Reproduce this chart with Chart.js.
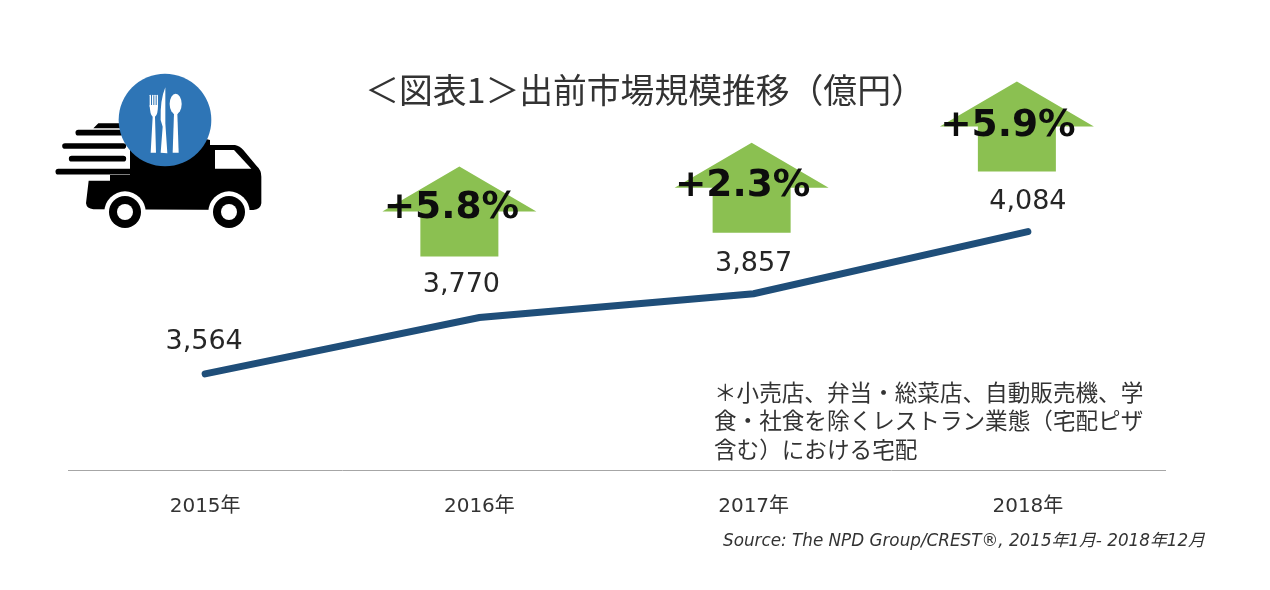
<!DOCTYPE html>
<html lang="ja">
<head>
<meta charset="utf-8">
<title>出前市場規模推移</title>
<script src="https://cdn.jsdelivr.net/npm/chart.js@4/dist/chart.umd.js"></script>
<style>
  html, body { margin: 0; background: #fff; }
  canvas { display: block; }
</style>
</head>
<body>
<canvas id="chart" width="1270" height="590"></canvas>
<script>
// --- Data ---
const years = ["2015年", "2016年", "2017年", "2018年"];
const marketSize = [3564, 3770, 3857, 4084];
const growthLabels = [null, "+5.8%", "+2.3%", "+5.9%"];
const titleText = "＜図表1＞出前市場規模推移（億円）";
const noteLines = [
  "＊小売店、弁当・総菜店、自動販売機、学",
  "食・社食を除くレストラン業態（宅配ピザ",
  "含む）における宅配"
];
const sourceText = "Source: The NPD Group/CREST®, 2015年1月- 2018年12月";

const JP = '"Noto Sans CJK JP"';
const LATIN = '"DejaVu Sans", ' + JP;

// --- Truck icon, coordinates are in a 3x grid from the top left of the icon ---
function drawTruck(ctx) {
  ctx.save();
  ctx.translate(40, 60);
  ctx.scale(1 / 3, 1 / 3);
  ctx.fillStyle = "#000";
  ctx.strokeStyle = "#000";

  // body and cab
  ctx.beginPath();
  ctx.moveTo(160, 205);
  ctx.lineTo(175, 190);
  ctx.lineTo(300, 190);
  ctx.lineTo(510, 240);
  ctx.lineTo(510, 255);
  ctx.lineTo(585, 255);
  ctx.quadraticCurveTo(600, 258, 610, 270);
  ctx.lineTo(650, 318);
  ctx.quadraticCurveTo(664, 330, 664, 350);
  ctx.lineTo(664, 430);
  ctx.quadraticCurveTo(662, 448, 640, 450);
  ctx.lineTo(160, 448);
  ctx.quadraticCurveTo(140, 446, 138, 430);
  ctx.lineTo(146, 362);
  ctx.lineTo(210, 362);
  ctx.lineTo(210, 345);
  ctx.lineTo(270, 345);
  ctx.lineTo(270, 205);
  ctx.closePath();
  ctx.fill();

  // gaps between the speed lines
  ctx.fillStyle = "#fff";
  ctx.fillRect(150, 228, 100, 20);
  ctx.fillRect(150, 267, 90, 20);
  ctx.fillRect(150, 305, 115, 20);

  // speed lines
  ctx.lineCap = "round";
  ctx.lineWidth = 17;
  [[115, 218, 240], [75, 258, 250], [95, 296, 250], [55, 335, 270]].forEach(([a, y, b]) => {
    ctx.beginPath();
    ctx.moveTo(a, y);
    ctx.lineTo(b, y);
    ctx.stroke();
  });

  // cab window
  ctx.fillStyle = "#fff";
  ctx.beginPath();
  ctx.moveTo(525, 270);
  ctx.lineTo(582, 270);
  ctx.lineTo(634, 326);
  ctx.lineTo(525, 326);
  ctx.closePath();
  ctx.fill();

  // wheels
  [255, 567].forEach(x => {
    [[62, "#fff"], [48, "#000"], [24, "#fff"]].forEach(([r, c]) => {
      ctx.fillStyle = c;
      ctx.beginPath();
      ctx.arc(x, 456, r, 0, Math.PI * 2);
      ctx.fill();
    });
  });

  // blue badge
  ctx.fillStyle = "#2e75b6";
  ctx.beginPath();
  ctx.arc(375, 180, 139, 0, Math.PI * 2);
  ctx.fill();

  // cutlery
  ctx.fillStyle = "#fff";
  ctx.strokeStyle = "#fff";
  ctx.lineCap = "round";
  ctx.lineWidth = 4;
  [331, 338, 345, 352].forEach(x => {
    ctx.beginPath();
    ctx.moveTo(x, 106);
    ctx.lineTo(x, 140);
    ctx.stroke();
  });
  ctx.beginPath();
  ctx.moveTo(329, 135);
  ctx.quadraticCurveTo(330, 165, 338, 170);
  ctx.lineTo(332, 278);
  ctx.lineTo(348, 278);
  ctx.lineTo(345, 170);
  ctx.quadraticCurveTo(354, 165, 354, 135);
  ctx.closePath();
  ctx.fill();

  ctx.beginPath();
  ctx.moveTo(376, 82);
  ctx.quadraticCurveTo(360, 120, 362, 180);
  ctx.lineTo(368, 200);
  ctx.lineTo(362, 278);
  ctx.lineTo(382, 280);
  ctx.lineTo(376, 190);
  ctx.closePath();
  ctx.fill();

  ctx.beginPath();
  ctx.ellipse(407, 132, 18, 31, 0, 0, Math.PI * 2);
  ctx.fill();
  ctx.beginPath();
  ctx.moveTo(402, 160);
  ctx.lineTo(398, 278);
  ctx.lineTo(416, 278);
  ctx.lineTo(412, 160);
  ctx.closePath();
  ctx.fill();
  ctx.restore();
}

// --- Green arrows sit a fixed distance above their point ---
const arrowPlugin = {
  id: "arrows",
  beforeDatasetsDraw(chart) {
    const { ctx } = chart;
    const meta = chart.getDatasetMeta(0).data;
    const shift = [0, -20, -2, -11];
    const lift = [0, 61, 61, 60];
    drawTruck(ctx);
    ctx.save();
    ctx.fillStyle = "#8bc051";
    growthLabels.forEach((g, i) => {
      if (!g) return;
      const cx = meta[i].x + shift[i];
      const bottom = meta[i].y - lift[i];
      ctx.beginPath();
      ctx.moveTo(cx, bottom - 90);
      ctx.lineTo(cx + 77, bottom - 45);
      ctx.lineTo(cx + 39, bottom - 45);
      ctx.lineTo(cx + 39, bottom);
      ctx.lineTo(cx - 39, bottom);
      ctx.lineTo(cx - 39, bottom - 45);
      ctx.lineTo(cx - 77, bottom - 45);
      ctx.closePath();
      ctx.fill();
    });
    ctx.restore();
  },
  afterDatasetsDraw(chart) {
    const { ctx } = chart;
    const meta = chart.getDatasetMeta(0).data;
    const valueShift = [[-1, -32], [-18, -33], [0, -30], [0, -30]];
    const growthShift = [0, [-28, -109], [-11, -107], [-20, -105]];
    ctx.save();
    ctx.textAlign = "center";
    ctx.textBaseline = "middle";

    // value labels
    ctx.fillStyle = "#262626";
    ctx.font = "27px " + LATIN;
    marketSize.forEach((v, i) => {
      ctx.fillText(v.toLocaleString("en-US"), meta[i].x + valueShift[i][0], meta[i].y + valueShift[i][1]);
    });

    // growth labels
    ctx.fillStyle = "#0d0d0d";
    ctx.font = "bold 37.5px " + LATIN;
    growthLabels.forEach((g, i) => {
      if (g) ctx.fillText(g, meta[i].x + growthShift[i][0], meta[i].y + growthShift[i][1]);
    });

    // note and source
    ctx.textAlign = "left";
    ctx.fillStyle = "#333";
    ctx.font = "22.6px " + JP;
    noteLines.forEach((line, i) => ctx.fillText(line, 714, 392 + i * 28.5));
    ctx.font = "italic 16.8px " + LATIN;
    ctx.fillText(sourceText, 723, 542);
    ctx.restore();
  }
};

// --- Chart ---
new Chart(document.getElementById("chart"), {
  type: "line",
  data: {
    labels: years,
    datasets: [{
      data: marketSize,
      borderColor: "#1f4e79",
      borderWidth: 7,
      borderCapStyle: "round",
      pointRadius: 0,
      tension: 0,
      fill: false
    }]
  },
  options: {
    responsive: false,
    animation: false,
    layout: { padding: { left: 20, right: 0, top: 0, bottom: 0 } },
    plugins: {
      legend: { display: false },
      tooltip: { enabled: false },
      title: {
        display: true,
        text: titleText,
        color: "#333",
        font: { family: JP, size: 33.8, weight: "normal" },
        padding: { top: 70, bottom: 0 }
      }
    },
    scales: {
      x: {
        offset: true,
        afterFit: s => { s.height = 120; },
        grid: { display: false, drawTicks: false },
        border: { color: "#a6a6a6", width: 1 },
        ticks: { color: "#333", font: { family: LATIN, size: 20 }, padding: 25, maxRotation: 0 }
      },
      // the two hidden side axes only hold the plot width
      y: {
        min: 3213,
        max: 4526,
        afterFit: s => { s.width = 48; },
        grid: { display: false },
        border: { display: false },
        ticks: { display: false }
      },
      y2: {
        position: "right",
        afterFit: s => { s.width = 105; },
        grid: { display: false },
        border: { display: false },
        ticks: { display: false }
      }
    }
  },
  plugins: [arrowPlugin]
});
</script>
</body>
</html>
